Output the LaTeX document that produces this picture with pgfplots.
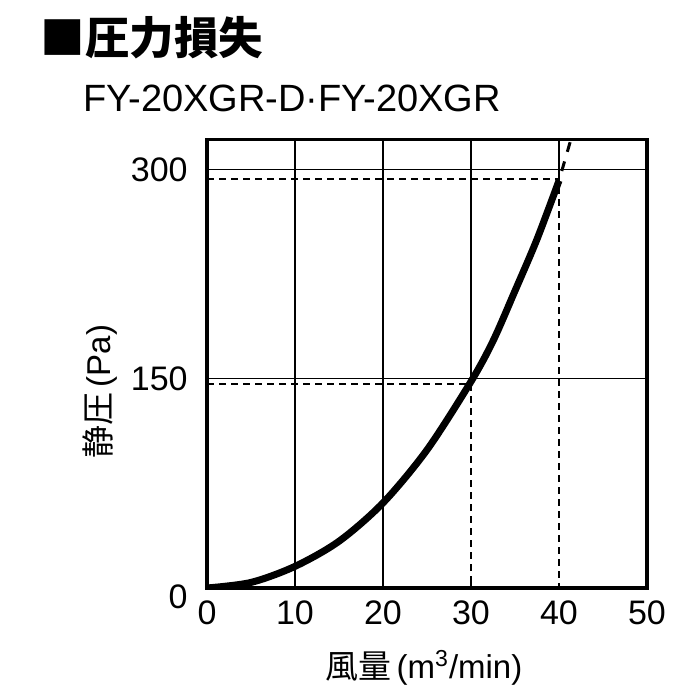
\documentclass[border=0pt]{standalone}
\usepackage{fontspec}
\setmainfont{Liberation Sans}
\newfontfamily\cjk{Noto Sans CJK JP}
\usepackage{pgfplots}
\pgfplotsset{compat=1.18}

\begin{document}
\begin{tikzpicture}
\useasboundingbox (0pt,0pt) rectangle (350pt,350pt);

% title and model names
\node[anchor=base west, inner sep=0pt, font=\cjk\bfseries\fontsize{22.3}{24}\selectfont]
  at (20pt,322.5pt) {■圧力損失};
\node[anchor=base west, inner sep=0pt, font=\fontsize{19}{20}\selectfont]
  at (41.5pt,294.15pt) {FY-20XGR-D·FY-20XGR};

\begin{axis}[
  at={(103.5pt,56pt)}, anchor=south west,
  scale only axis, width=220pt, height=224.25pt,
  xmin=0, xmax=50, ymin=0, ymax=321.5,
  xtick={0,10,20,30,40,50}, ytick={0,150,300},
  yticklabels={,150,300},
  tick align=inside, xtick pos=bottom, ytick pos=left,
  major tick length=2.5pt,
  tick style={line width=0.65pt, black},
  axis line style={line width=1.75pt},
  ymajorgrids, major grid style={line width=0.65pt, black},
  tick label style={font=\fontsize{17}{17}\selectfont, inner sep=0pt},
  /pgf/number format/assume math mode=true,
  xticklabel style={yshift=-6pt},
  yticklabel style={xshift=-9.5pt},
]
% vertical grid (30 and 40 stop at the guide lines)
\addplot[line width=0.65pt, black] coordinates {(10,0) (10,321.5)};
\addplot[line width=0.65pt, black] coordinates {(20,0) (20,321.5)};
\addplot[line width=0.65pt, black] coordinates {(30,146) (30,321.5)};
\addplot[line width=0.65pt, black] coordinates {(40,293) (40,321.5)};

% guide lines
\addplot[line width=0.9pt, black, dash pattern=on 3.5pt off 2.5pt] coordinates {(0,146) (30,146) (30,0)};
\addplot[line width=0.9pt, black, dash pattern=on 3.5pt off 2.5pt] coordinates {(0,293) (40,293) (40,0)};

% pressure loss curve
\addplot[line width=3.5pt, black, smooth] coordinates {
  (0,0) (5,4) (10,15.5) (15,33.5) (20,61) (25,99)
  (30,148) (32.5,177) (35,213) (37.5,250) (40,292)
};
\addplot[line width=1.5pt, black, dash pattern=on 5pt off 5pt, dash phase=5pt]
  coordinates {(40,292) (41.35,321.5)};
\end{axis}

\node[anchor=east, inner sep=0pt, font=\fontsize{17}{17}\selectfont] at (94pt,51.5pt) {0};

% axis labels
\node[anchor=base, inner sep=0pt, font=\fontsize{16.5}{17}\selectfont]
  at (212pt,10.5pt) {{\cjk 風量}\hspace{2.5pt}(m\textsuperscript{3}/min)};
\node[rotate=90, anchor=base, inner sep=0pt, font=\fontsize{16.5}{17}\selectfont]
  at (55.25pt,154.25pt) {{\cjk 静圧}\hspace{2.5pt}(Pa)};
\end{tikzpicture}
\end{document}
